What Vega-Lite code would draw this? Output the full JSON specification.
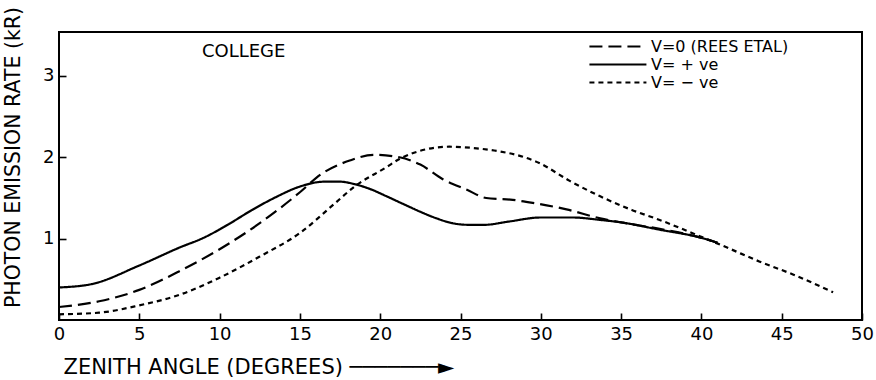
{
  "$schema": "https://vega.github.io/schema/vega-lite/v6.json",
  "autosize": "none",
  "width": 803,
  "height": 288,
  "padding": {"left": 59, "top": 32, "right": 14, "bottom": 60},
  "background": "white",
  "config": {
    "view": {"stroke": "black", "strokeWidth": 2},
    "font": "DejaVu Sans"
  },
  "datasets": {
    "curves": [
      {"series": "V=0 (REES ETAL)", "angle": 0, "rate": 0.16},
      {"series": "V=0 (REES ETAL)", "angle": 2.5, "rate": 0.23},
      {"series": "V=0 (REES ETAL)", "angle": 5, "rate": 0.37},
      {"series": "V=0 (REES ETAL)", "angle": 7.5, "rate": 0.6},
      {"series": "V=0 (REES ETAL)", "angle": 10, "rate": 0.87},
      {"series": "V=0 (REES ETAL)", "angle": 12.5, "rate": 1.19},
      {"series": "V=0 (REES ETAL)", "angle": 15, "rate": 1.57},
      {"series": "V=0 (REES ETAL)", "angle": 16.3, "rate": 1.79},
      {"series": "V=0 (REES ETAL)", "angle": 18.1, "rate": 1.96},
      {"series": "V=0 (REES ETAL)", "angle": 19.6, "rate": 2.03},
      {"series": "V=0 (REES ETAL)", "angle": 21.2, "rate": 2.0},
      {"series": "V=0 (REES ETAL)", "angle": 22.5, "rate": 1.91},
      {"series": "V=0 (REES ETAL)", "angle": 23.9, "rate": 1.73},
      {"series": "V=0 (REES ETAL)", "angle": 25.4, "rate": 1.6},
      {"series": "V=0 (REES ETAL)", "angle": 26.6, "rate": 1.5},
      {"series": "V=0 (REES ETAL)", "angle": 28.1, "rate": 1.48},
      {"series": "V=0 (REES ETAL)", "angle": 29.5, "rate": 1.44},
      {"series": "V=0 (REES ETAL)", "angle": 31.6, "rate": 1.36},
      {"series": "V=0 (REES ETAL)", "angle": 33.7, "rate": 1.25},
      {"series": "V=0 (REES ETAL)", "angle": 35, "rate": 1.2},
      {"series": "V=0 (REES ETAL)", "angle": 37.4, "rate": 1.12},
      {"series": "V=0 (REES ETAL)", "angle": 40, "rate": 1.01},
      {"series": "V=0 (REES ETAL)", "angle": 41, "rate": 0.95},
      {"series": "V= + ve", "angle": 0, "rate": 0.4},
      {"series": "V= + ve", "angle": 2, "rate": 0.44},
      {"series": "V= + ve", "angle": 5, "rate": 0.67},
      {"series": "V= + ve", "angle": 7.5, "rate": 0.89},
      {"series": "V= + ve", "angle": 9, "rate": 1.01},
      {"series": "V= + ve", "angle": 10.5, "rate": 1.17},
      {"series": "V= + ve", "angle": 12, "rate": 1.35},
      {"series": "V= + ve", "angle": 13.5, "rate": 1.51},
      {"series": "V= + ve", "angle": 15, "rate": 1.64},
      {"series": "V= + ve", "angle": 16.5, "rate": 1.7},
      {"series": "V= + ve", "angle": 17.5, "rate": 1.7},
      {"series": "V= + ve", "angle": 18.4, "rate": 1.67},
      {"series": "V= + ve", "angle": 19.5, "rate": 1.6},
      {"series": "V= + ve", "angle": 20.4, "rate": 1.52},
      {"series": "V= + ve", "angle": 21.5, "rate": 1.42},
      {"series": "V= + ve", "angle": 22.5, "rate": 1.33},
      {"series": "V= + ve", "angle": 23.5, "rate": 1.25},
      {"series": "V= + ve", "angle": 24.5, "rate": 1.19},
      {"series": "V= + ve", "angle": 25.5, "rate": 1.17},
      {"series": "V= + ve", "angle": 26.5, "rate": 1.17},
      {"series": "V= + ve", "angle": 28, "rate": 1.21},
      {"series": "V= + ve", "angle": 30, "rate": 1.26},
      {"series": "V= + ve", "angle": 32, "rate": 1.26},
      {"series": "V= + ve", "angle": 33.7, "rate": 1.23},
      {"series": "V= + ve", "angle": 35, "rate": 1.2},
      {"series": "V= + ve", "angle": 37.4, "rate": 1.11},
      {"series": "V= + ve", "angle": 40, "rate": 1.01},
      {"series": "V= + ve", "angle": 41, "rate": 0.95},
      {"series": "V= − ve", "angle": 0, "rate": 0.07},
      {"series": "V= − ve", "angle": 2.5, "rate": 0.09},
      {"series": "V= − ve", "angle": 5, "rate": 0.18},
      {"series": "V= − ve", "angle": 7.5, "rate": 0.31},
      {"series": "V= − ve", "angle": 10, "rate": 0.52},
      {"series": "V= − ve", "angle": 12.5, "rate": 0.78},
      {"series": "V= − ve", "angle": 15, "rate": 1.07},
      {"series": "V= − ve", "angle": 17.1, "rate": 1.42},
      {"series": "V= − ve", "angle": 18.4, "rate": 1.64},
      {"series": "V= − ve", "angle": 20.4, "rate": 1.88},
      {"series": "V= − ve", "angle": 21.2, "rate": 1.98},
      {"series": "V= − ve", "angle": 22.5, "rate": 2.08},
      {"series": "V= − ve", "angle": 24.3, "rate": 2.13},
      {"series": "V= − ve", "angle": 26, "rate": 2.11},
      {"series": "V= − ve", "angle": 27.5, "rate": 2.07},
      {"series": "V= − ve", "angle": 29, "rate": 2.0},
      {"series": "V= − ve", "angle": 29.9, "rate": 1.93},
      {"series": "V= − ve", "angle": 31.8, "rate": 1.71},
      {"series": "V= − ve", "angle": 33.7, "rate": 1.52},
      {"series": "V= − ve", "angle": 35.7, "rate": 1.35},
      {"series": "V= − ve", "angle": 37.4, "rate": 1.23},
      {"series": "V= − ve", "angle": 39.9, "rate": 1.03},
      {"series": "V= − ve", "angle": 41.6, "rate": 0.89},
      {"series": "V= − ve", "angle": 43.6, "rate": 0.72},
      {"series": "V= − ve", "angle": 45.7, "rate": 0.56},
      {"series": "V= − ve", "angle": 48.2, "rate": 0.34}
    ],
    "notes": [
      {"label": "COLLEGE", "angle": 11.5, "rate": 3.3}
    ]
  },
  "layer": [
    {
      "data": {"name": "curves"},
      "mark": {"type": "line", "interpolate": "monotone", "color": "black", "strokeWidth": 2.2},
      "encoding": {
        "x": {
          "field": "angle", "type": "quantitative",
          "scale": {"domain": [0, 50], "nice": false, "zero": false},
          "axis": {
            "values": [0, 5, 10, 15, 20, 25, 30, 35, 40, 45, 50],
            "domain": false, "grid": false, "offset": -7, "zindex": 1,
            "ticks": true, "tickSize": 7, "tickColor": "black", "tickWidth": 1.6,
            "labelPadding": 5, "labelFlush": false, "labelOverlap": false,
            "labelFontSize": 18, "labelColor": "black", "labelFont": "DejaVu Sans",
            "title": "ZENITH ANGLE (DEGREES) ───────►",
            "titleFont": "DejaVu Sans", "titleFontSize": 21, "titleFontWeight": "normal",
            "titleColor": "black", "titleAnchor": "start", "titleAlign": "left",
            "titleBaseline": "middle", "titleX": 4, "titleY": 54
          }
        },
        "y": {
          "field": "rate", "type": "quantitative",
          "scale": {"domain": [0, 3.54], "nice": false, "zero": false},
          "axis": {
            "values": [1, 2, 3], "format": "d",
            "domain": false, "grid": false, "offset": -7, "zindex": 1,
            "ticks": true, "tickSize": 7, "tickColor": "black", "tickWidth": 1.6,
            "labelPadding": 5, "labelFontSize": 18, "labelColor": "black", "labelFont": "DejaVu Sans",
            "title": "PHOTON EMISSION RATE (kR)",
            "titleFont": "DejaVu Sans", "titleFontSize": 20.5, "titleFontWeight": "normal",
            "titleColor": "black", "titleAngle": 270, "titleAlign": "center",
            "titleBaseline": "middle", "titleX": -53, "titleY": 125
          }
        },
        "strokeDash": {
          "field": "series", "type": "nominal",
          "scale": {
            "domain": ["V=0 (REES ETAL)", "V= + ve", "V= − ve"],
            "range": [[13, 6], [1, 0], [5, 4]]
          },
          "legend": {
            "orient": "none", "legendX": 529, "legendY": 6,
            "title": null, "symbolType": "M-1,0H7.06", "symbolSize": 200,
            "symbolStrokeWidth": 2, "symbolStrokeColor": "black",
            "labelFont": "DejaVu Sans", "labelFontSize": 16, "labelColor": "black",
            "labelOffset": 46, "rowPadding": 1, "padding": 0
          }
        }
      }
    },
    {
      "data": {"name": "notes"},
      "mark": {"type": "text", "font": "DejaVu Sans", "fontSize": 18, "color": "black"},
      "encoding": {
        "x": {"field": "angle", "type": "quantitative"},
        "y": {"field": "rate", "type": "quantitative"},
        "text": {"field": "label"}
      }
    }
  ]
}
